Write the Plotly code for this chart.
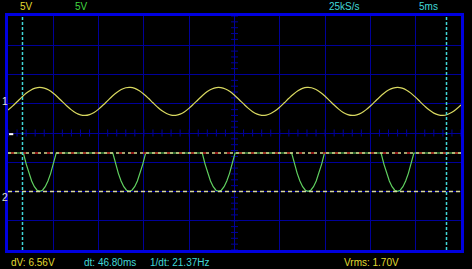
import plotly.graph_objects as go

# ---------------- data ----------------
# time base: 5 ms/div, 10 divisions; vertical: 5 V/div, 8 divisions
t_ms = [i * 0.5 for i in range(101)]

ch1_offset = 5.4     # V on screen (channel 1 ground marker)
ch2_offset = -10.94  # V on screen (channel 2 ground marker)

ch1_v = [-1.48, -0.81, -0.06, 0.69, 1.38, 1.92, 2.27, 2.40, 2.28, 1.94,
         1.40, 0.72, -0.04, -0.78, -1.45, -1.98, -2.30, -2.40, -2.25, -1.88,
         -1.32, -0.62, 0.13, 0.88, 1.53, 2.03, 2.33, 2.39, 2.22, 1.82,
         1.23, 0.53, -0.23, -0.97, -1.61, -2.08, -2.35, -2.38, -2.18, -1.75,
         -1.15, -0.43, 0.33, 1.06, 1.68, 2.13, 2.37, 2.37, 2.13, 1.68,
         1.06, 0.33, -0.43, -1.15, -1.75, -2.18, -2.38, -2.35, -2.08, -1.61,
         -0.97, -0.23, 0.53, 1.23, 1.82, 2.22, 2.39, 2.33, 2.03, 1.53,
         0.88, 0.13, -0.62, -1.32, -1.88, -2.25, -2.40, -2.30, -1.98, -1.45,
         -0.78, -0.03, 0.72, 1.40, 1.94, 2.28, 2.40, 2.27, 1.92, 1.37,
         0.69, -0.07, -0.81, -1.48, -2.00, -2.31, -2.40, -2.24, -1.86, -1.29,
         -0.59]

ch2_t = [0.0,
         1.70, 2.01, 2.31, 2.61, 2.91, 3.21, 3.51, 3.81, 4.11, 4.41, 4.71, 5.01, 5.32,
         11.57, 11.88, 12.18, 12.48, 12.78, 13.08, 13.38, 13.68, 13.98, 14.28, 14.58, 14.88, 15.19,
         21.44, 21.75, 22.05, 22.35, 22.65, 22.95, 23.25, 23.55, 23.85, 24.15, 24.45, 24.75, 25.06,
         31.31, 31.62, 31.92, 32.22, 32.52, 32.82, 33.12, 33.42, 33.72, 34.02, 34.32, 34.62, 34.93,
         41.18, 41.49, 41.79, 42.09, 42.39, 42.69, 42.99, 43.29, 43.59, 43.89, 44.19, 44.49, 44.80,
         50.0]
ch2_v = [7.52,
         7.52, 5.63, 4.04, 2.73, 1.76, 1.16, 0.96, 1.16, 1.76, 2.73, 4.04, 5.63, 7.52,
         7.52, 5.63, 4.04, 2.73, 1.76, 1.16, 0.96, 1.16, 1.76, 2.73, 4.04, 5.63, 7.52,
         7.52, 5.63, 4.04, 2.73, 1.76, 1.16, 0.96, 1.16, 1.76, 2.73, 4.04, 5.63, 7.52,
         7.52, 5.63, 4.04, 2.73, 1.76, 1.16, 0.96, 1.16, 1.76, 2.73, 4.04, 5.63, 7.52,
         7.52, 5.63, 4.04, 2.73, 1.76, 1.16, 0.96, 1.16, 1.76, 2.73, 4.04, 5.63, 7.52,
         7.52]

cursor_t = [1.60, 48.40]          # ms
cursor_v_ch2 = [7.52, 0.96]       # V (channel 2)
trigger_level = -0.2              # V on screen

top_labels = ["5V", "5V", "25kS/s", "5ms"]
bottom_labels = ["dV: 6.56V", "dt: 46.80ms", "1/dt: 21.37Hz", "Vrms: 1.70V"]

# ---------------- styling ----------------
W, H = 472, 269
ML, MR, MT, MB = 8, 8, 16, 19
PW = W - ML - MR
PH = H - MT - MB
FONT = "Liberation Sans"
YEL = "#e0dc30"
GRN = "#40d840"
CYN = "#40d8d8"
GRID = "#00009a"
BORDER = "#0000e0"


def px_x(p):
    return (p - ML) / PW


def px_y(p):
    return 1 - (p - MT) / PH


fig = go.Figure()

# center-line ticks
fig.add_trace(go.Scatter(x=[i * 1.0 for i in range(51)], y=[0] * 51, mode="markers",
                         marker=dict(symbol="line-ns", size=5, line=dict(color=GRID, width=1)),
                         hoverinfo="skip", showlegend=False))
fig.add_trace(go.Scatter(x=[25] * 41, y=[i - 20.0 for i in range(41)], mode="markers",
                         marker=dict(symbol="line-ew", size=5, line=dict(color=GRID, width=1)),
                         hoverinfo="skip", showlegend=False))

# channel 1
fig.add_trace(go.Scatter(x=t_ms, y=[v + ch1_offset for v in ch1_v], mode="lines",
                         line=dict(color="#d8d860", width=1.2, shape="spline"),
                         showlegend=False))
# channel 2
fig.add_trace(go.Scatter(x=ch2_t, y=[v + ch2_offset for v in ch2_v], mode="lines",
                         line=dict(color="#60d060", width=1.2), showlegend=False))

# horizontal cursors
y_top = cursor_v_ch2[0] + ch2_offset
y_bot = cursor_v_ch2[1] + ch2_offset
fig.add_trace(go.Scatter(x=[0, 50], y=[y_top, y_top], mode="lines",
                         line=dict(color="#c02020", width=1.5, dash="0px,3px,3px,6px"),
                         showlegend=False, hoverinfo="skip"))
fig.add_trace(go.Scatter(x=[0, 50], y=[y_top, y_top], mode="lines",
                         line=dict(color="#d8d890", width=1.5, dash="3px,3px"),
                         showlegend=False, hoverinfo="skip"))
fig.add_trace(go.Scatter(x=[0, 50], y=[y_bot, y_bot], mode="lines",
                         line=dict(color="#d8d8a0", width=1.5, dash="4px,3px"),
                         showlegend=False, hoverinfo="skip"))

# vertical cursors
for tc in cursor_t:
    fig.add_trace(go.Scatter(x=[tc, tc], y=[-20, 20], mode="lines",
                             line=dict(color=CYN, width=1.5, dash="3px,2px"),
                             showlegend=False, hoverinfo="skip"))

# trigger marker
fig.add_trace(go.Scatter(x=[0.35], y=[trigger_level], mode="markers",
                         marker=dict(symbol="line-ew", size=3, line=dict(color="white", width=2)),
                         showlegend=False, hoverinfo="skip"))

ann = []
top_pos = [18, 73, 329, 420]
top_col = [YEL, GRN, CYN, CYN]
for lab, p, c in zip(top_labels, top_pos, top_col):
    ann.append(dict(text=lab, x=px_x(p), y=px_y(7), xref="paper", yref="paper",
                    xanchor="left", yanchor="middle", showarrow=False,
                    font=dict(family=FONT, size=10, color=c)))
bot_pos = [9, 82, 149, 344]
bot_col = [YEL, CYN, CYN, YEL]
for lab, p, c in zip(bottom_labels, bot_pos, bot_col):
    ann.append(dict(text=lab, x=px_x(p), y=px_y(262), xref="paper", yref="paper",
                    xanchor="left", yanchor="middle", showarrow=False,
                    font=dict(family=FONT, size=10, color=c)))
for lab, off in [("1", ch1_offset), ("2", ch2_offset)]:
    ann.append(dict(text=lab, x=px_x(0), y=off, xref="paper", yref="y",
                    xanchor="left", yanchor="middle", showarrow=False,
                    font=dict(family=FONT, size=10, color="#e0e0c0")))

fig.update_layout(
    width=W, height=H,
    margin=dict(l=ML, r=MR, t=MT, b=MB, pad=0),
    paper_bgcolor="black", plot_bgcolor="black",
    annotations=ann,
    xaxis=dict(range=[0, 50], dtick=5, tick0=0, showgrid=True, gridcolor=GRID, gridwidth=1,
               zeroline=False, showticklabels=False, ticks="",
               showline=True, linecolor=BORDER, linewidth=3, mirror=True, fixedrange=True),
    yaxis=dict(range=[-20, 20], dtick=5, tick0=0, showgrid=True, gridcolor=GRID, gridwidth=1,
               zeroline=False, showticklabels=False, ticks="",
               showline=True, linecolor=BORDER, linewidth=3, mirror=True, fixedrange=True),
)

fig.write_html("out.html")
